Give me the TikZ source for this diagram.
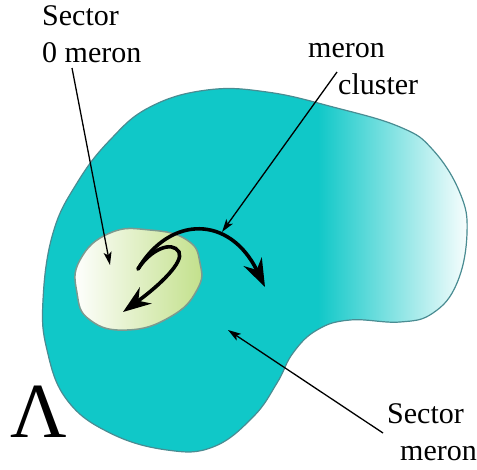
\documentclass[tikz,border=0pt]{standalone}
\usepackage{fontspec}
\setmainfont{Liberation Serif}
\usetikzlibrary{arrows.meta}
\definecolor{blobteal}{HTML}{10C8C8}
\definecolor{blobedge}{HTML}{4A8C92}
\definecolor{innergreen}{HTML}{C2E08A}
\definecolor{inneredge}{HTML}{7C9A90}
\begin{document}
\begin{tikzpicture}[x=1pt,y=-1pt,
  textlbl/.style={font=\fontsize{30}{37}\selectfont, inner sep=0pt, align=left, anchor=base west},
  thinarrow/.style={line width=1.3pt, -{Stealth[length=13pt,width=8pt,inset=3pt]}},
  thickarrow/.style={line width=3.6pt, line cap=round, -{Stealth[length=28pt,width=20pt,inset=9pt]}}]
\useasboundingbox (0,0) rectangle (477,469);
\def\blobpath{plot[smooth cycle, tension=0.7] coordinates {(207,90) (267,92) (333,107) (400,127) (433,150) (460,193) (467,233) (457,283) (433,313) (400,322) (350,320) (317,330) (293,353) (277,383) (253,417) (213,447) (167,450) (110,433) (67,400) (47,350) (43,300) (53,233) (77,183) (110,140) (150,107)}}
\begin{scope}
  \clip \blobpath;
  \fill[blobteal] (0,0) rectangle (477,469);
  \shade[left color=blobteal, right color=white] (318,60) rectangle (472,360);
\end{scope}
\draw[blobedge, line width=1.2pt] \blobpath;
% inner region
\shadedraw[left color=white, right color=innergreen, draw=inneredge, line width=1.5pt]
  plot[smooth cycle, tension=0.8] coordinates {(110,233) (150,230) (187,240) (200,263) (197,290) (170,317) (127,330) (90,320) (77,293) (80,260)};
% labels (base anchor = baseline of the last line)
\node[textlbl] (s0lbl) at (42,62) {Sector\\0 meron};
\node[textlbl] (mclbl) at (308,94) {meron\\\hspace*{30pt}cluster};
\node[textlbl] (smlbl) at (387,460) {Sector\\\hspace*{13pt}meron};
\node[font=\fontsize{78}{78}\selectfont, inner sep=0pt, anchor=base west] (lam) at (10,437) {Λ};
% coordinates
\coordinate (s0start) at (72,68);
\coordinate (s0tip) at (110,265);
\coordinate (mcstart) at (337,72);
\coordinate (mctip) at (222,232);
\coordinate (smstart) at (383,433);
\coordinate (smtip) at (228,330);
\coordinate (arcstart) at (138,269);
\coordinate (arcend) at (265,287);
\coordinate (hooktop) at (179,252);
\coordinate (hookend) at (123,312);
% arrows
\draw[thinarrow] (s0start) -- (s0tip);
\draw[thinarrow] (mcstart) -- (mctip);
\draw[thinarrow] (smstart) -- (smtip);
\draw[thickarrow] (arcstart) .. controls (170,215) and (230,215) .. (arcend);
\draw[thickarrow] (arcstart) .. controls (150,250) and (172,240) .. (hooktop) .. controls (184,262) and (160,285) .. (hookend);
\end{tikzpicture}
\end{document}
